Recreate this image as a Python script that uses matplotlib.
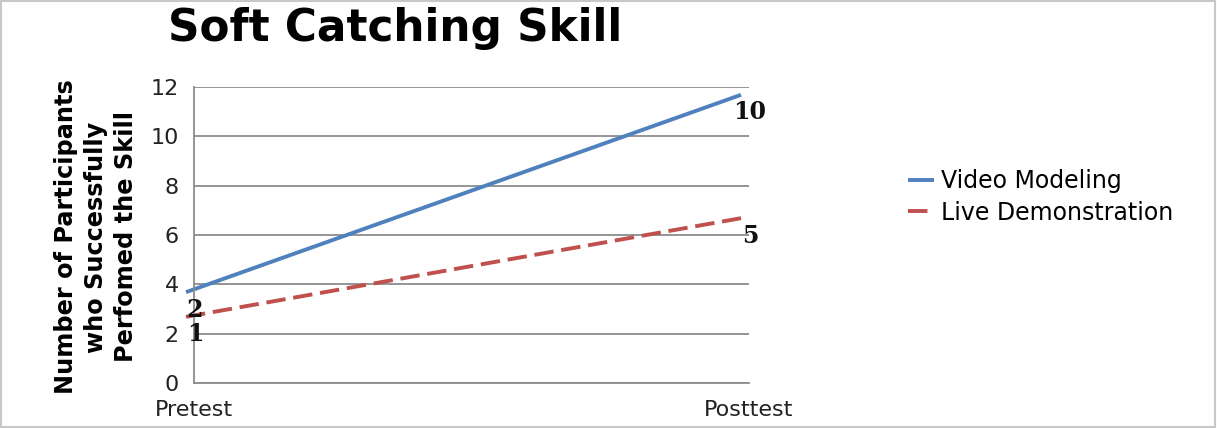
import matplotlib.pyplot as plt
import matplotlib.transforms as mtransforms
from matplotlib.patches import Rectangle

# test phases and number of participants per group
phases = ["Pretest", "Posttest"]
video_modeling = [2, 10]
live_demo = [1, 5]
series_names = ["Video Modeling", "Live Demonstration"]

W, H, DPI = 1217, 428, 100
fig = plt.figure(figsize=(W / DPI, H / DPI), dpi=DPI)
ax = fig.add_axes([194 / W, 45 / H, 555 / W, 296 / H])

# lines sit a little up and left of the category points
shift = mtransforms.ScaledTranslation(-8 / DPI, 41.5 / DPI, fig.dpi_scale_trans)
xs = range(len(phases))
ax.plot(xs, video_modeling, color="#4F81BD", lw=2.8, solid_capstyle="butt",
        transform=ax.transData + shift, clip_on=False, label=series_names[0])
ax.plot(xs, live_demo, color="#C0504D", lw=2.8, linestyle=(0, (5, 2)),
        dash_capstyle="butt", transform=ax.transData + shift, clip_on=False,
        label=series_names[1])

for vals in (video_modeling, live_demo):
    for i, v in enumerate(vals):
        ax.annotate(str(v), (i, v), xytext=(1, 24), textcoords="offset pixels",
                    ha="center", va="center", fontsize=17, fontweight="bold",
                    family="DejaVu Serif", color="#111111")

ax.set_xlim(0, 1)
ax.set_ylim(0, 12)
ax.set_yticks(range(0, 13, 2))
ax.set_xticks(list(xs))
ax.set_xticklabels(phases)
ax.tick_params(axis="both", length=0, labelsize=16, labelcolor="#222222")
ax.tick_params(axis="y", pad=11)
ax.tick_params(axis="x", pad=12)
ax.grid(axis="y", color="#8c8c8c", lw=1.3)
ax.set_axisbelow(True)
for side in ("top", "right"):
    ax.spines[side].set_visible(False)
for side in ("left", "bottom"):
    ax.spines[side].set_color("#8c8c8c")
    ax.spines[side].set_linewidth(1.3)

fig.text(168 / W, 1 - 29 / H, "Soft Catching Skill", fontsize=31.5,
         fontweight="bold", ha="left", va="center")
fig.text(96 / W, 1 - 237 / H,
         "Number of Participants\nwho Successfully\nPerfomed the Skill",
         rotation=90, ha="center", va="center", multialignment="center",
         fontsize=17.3, fontweight="bold", linespacing=1.3)

ax.legend(loc="center left", bbox_to_anchor=(908 / W, 1 - 197 / H),
          bbox_transform=fig.transFigure, frameon=False, fontsize=17,
          handlelength=1.1, handletextpad=0.3, labelspacing=0.3,
          borderaxespad=0, borderpad=0)

fig.patches.append(Rectangle((0.001, 0.002), 0.997, 0.995, transform=fig.transFigure,
                             fill=False, edgecolor="#c8c8c8", lw=1.5))

fig.savefig("out.png", dpi=DPI)
